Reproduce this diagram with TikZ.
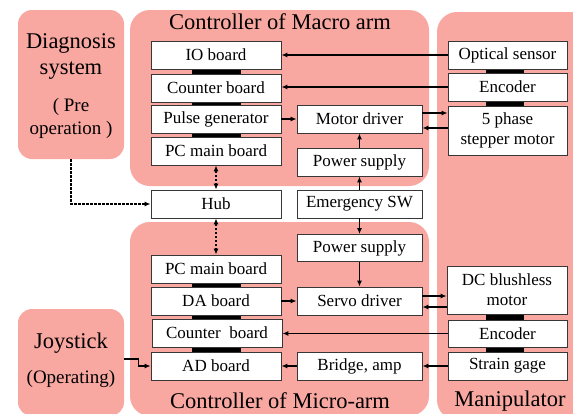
\documentclass[tikz,border=0pt]{standalone}
\usepackage{fontspec}
\setmainfont{Liberation Serif}
\usetikzlibrary{arrows.meta,calc}
\definecolor{panelpink}{RGB}{249,167,161}
\definecolor{boxline}{RGB}{55,55,55}
\tikzset{
  panel/.style={fill=panelpink, draw=none, rounded corners=20pt, inner sep=0pt},
  box/.style={draw=boxline, line width=0.9pt, fill=white, inner sep=0pt,
    minimum height=28pt, font=\fontsize{17}{20}\selectfont, align=center},
  lbox/.style={box, minimum width=130pt},
  mbox/.style={box, minimum width=125pt},
  rbox/.style={box, minimum width=119pt},
  title/.style={font=\fontsize{22.5}{24}\selectfont, inner sep=0pt},
  sub/.style={font=\fontsize{19}{21}\selectfont, inner sep=0pt},
  arr/.style={line width=1.1pt, -{Latex[length=6pt,width=5pt]}},
  darr/.style={line width=1.1pt, dash pattern=on 2.5pt off 1.5pt,
    {Latex[length=6pt,width=5pt]}-{Latex[length=6pt,width=5pt]}},
  dsarr/.style={line width=1.1pt, dash pattern=on 2.5pt off 1.5pt,
    -{Latex[length=6pt,width=5pt]}},
  busbar/.style={fill=black}
}
% black connector bar between two stacked boards (#1 upper, #2 lower, #3 half width)
\newcommand{\boardlink}[3]{%
  \fill[busbar] ($(#1.center)+(-#3,0)$) rectangle ($(#2.center)+(#3,0)$);}
\begin{document}
\begin{tikzpicture}[x=1pt, y=-1pt]
\clip (0,0) rectangle (573,413);

% background panels
\node[panel, rounded corners=14pt, minimum width=106pt, minimum height=149pt] (diag) at (71,84.5) {};
\node[panel, minimum width=299pt, minimum height=176pt] (macro) at (279.5,98) {};
\node[panel, minimum width=153pt, minimum height=408pt] (manip) at (513.5,216) {};
\node[panel, minimum width=299pt, minimum height=194pt] (micro) at (279.5,319) {};
\node[panel, rounded corners=14pt, minimum width=106pt, minimum height=107pt] (joy) at (71,362.5) {};

% panel titles
\node[title] (tmacro) at (280,22) {Controller of Macro arm};
\node[title] (tmicro) at (280,401) {Controller of Micro-arm};
\node[title] (tmanip) at (510,401) {Manipulator};
\node[title] (tdiag1) at (71,43) {Diagnosis};
\node[title] (tdiag2) at (71,71) {system};
\node[sub] (tdiag3) at (71,107) {( Pre};
\node[sub] (tdiag4) at (71,130) {operation )};
\node[title] (tjoy1) at (71,343) {Joystick};
\node[sub] (tjoy2) at (71,379) {(Operating)};

% board positions (drawn later on top of the bars)
\coordinate (io) at (216,55);
\coordinate (cnt1) at (216,88);
\coordinate (pulse) at (216,119);
\coordinate (pc1) at (216,151);
\coordinate (pc2) at (216,269);
\coordinate (da) at (216,301);
\coordinate (cnt2) at (216,333);
\coordinate (ad) at (216,366);
\coordinate (opt) at (505,55);
\coordinate (enc1) at (505,87);
\coordinate (step) at (505,130.5);
\coordinate (dc) at (505,290);
\coordinate (enc2) at (505,333.5);
\coordinate (strain) at (505,366);

% bus bars joining stacked boards
\boardlink{io}{cnt1}{24.5}
\boardlink{cnt1}{pulse}{24.5}
\boardlink{pulse}{pc1}{24.5}
\boardlink{pc2}{da}{24.5}
\boardlink{da}{cnt2}{24.5}
\boardlink{cnt2}{ad}{24.5}
\boardlink{opt}{enc1}{19}
\boardlink{enc1}{step}{19}
\boardlink{dc}{enc2}{19}
\boardlink{enc2}{strain}{19}

% macro arm controller
\node[lbox] (io) at (216,55) {IO board};
\node[lbox] (cnt1) at (216,88) {Counter board};
\node[lbox] (pulse) at (216,119) {Pulse generator};
\node[lbox] (pc1) at (216,151) {PC main board};
\node[mbox] (motor) at (359.5,119) {Motor driver};
\node[mbox] (ps1) at (359.5,162) {Power supply};

% shared
\node[lbox] (hub) at (216,204) {Hub};
\node[mbox] (emg) at (359.5,204) {Emergency SW};

% micro arm controller
\node[mbox, minimum height=27pt] (ps2) at (359.5,248) {Power supply};
\node[lbox] (pc2) at (216,269) {PC main board};
\node[lbox] (da) at (216,301) {DA board};
\node[lbox] (cnt2) at (217,333) {Counter\ \ board};
\node[lbox] (ad) at (216,366) {AD board};
\node[mbox] (servo) at (359.5,301) {Servo driver};
\node[mbox] (bridge) at (359.5,366) {Bridge, amp};

% manipulator
\node[rbox] (opt) at (507.5,55) {Optical sensor};
\node[rbox] (enc1) at (507.5,87) {Encoder};
\node[rbox, minimum height=49pt] (step) at (507.5,130.5) {5 phase\\stepper motor};
\node[rbox, minimum width=120pt, minimum height=48pt] (dc) at (507,290) {DC blushless\\motor};
\node[rbox, minimum height=27pt] (enc2) at (507.5,333.5) {Encoder};
\node[rbox] (strain) at (507.5,366) {Strain gage};

% signal connections
\draw[arr] (opt.west) -- (opt.west -| io.east);
\draw[arr] (enc1.west) -- (enc1.west -| cnt1.east);
\draw[arr] (pulse.east) -- (motor.west);
\draw[arr] ($(motor.east)+(0,-6)$) -- ($(motor.east -| step.west)+(0,-6)$);
\draw[arr] ($(motor.east -| step.west)+(0,9)$) -- ($(motor.east)+(0,9)$);
\draw[arr] (ps1.north) -- (motor.south);
\draw[arr] (emg.north) -- (ps1.south);
\draw[arr] (emg.south) -- (ps2.north);
\draw[arr] (ps2.south) -- (servo.north);
\draw[arr] (da.east) -- (servo.west);
\draw[arr] ($(servo.east)+(0,-5)$) -- ($(servo.east -| dc.west)+(0,-5)$);
\draw[arr] ($(servo.east -| dc.west)+(0,6)$) -- ($(servo.east)+(0,6)$);
\draw[arr] (enc2.west) -- (enc2.west -| cnt2.east);
\draw[arr] (strain.west) -- (bridge.east);
\draw[arr] (bridge.west) -- (ad.east);

% network links
\draw[darr] (pc1.south) -- (hub.north);
\draw[darr] (hub.south) -- (pc2.north);
\draw[dsarr] (diag.south) |- (hub.west);

% joystick input
\draw[arr] ($(joy.east)+(0,-3.5)$) -- ++(14,0) |- (ad.west);
\end{tikzpicture}
\end{document}
